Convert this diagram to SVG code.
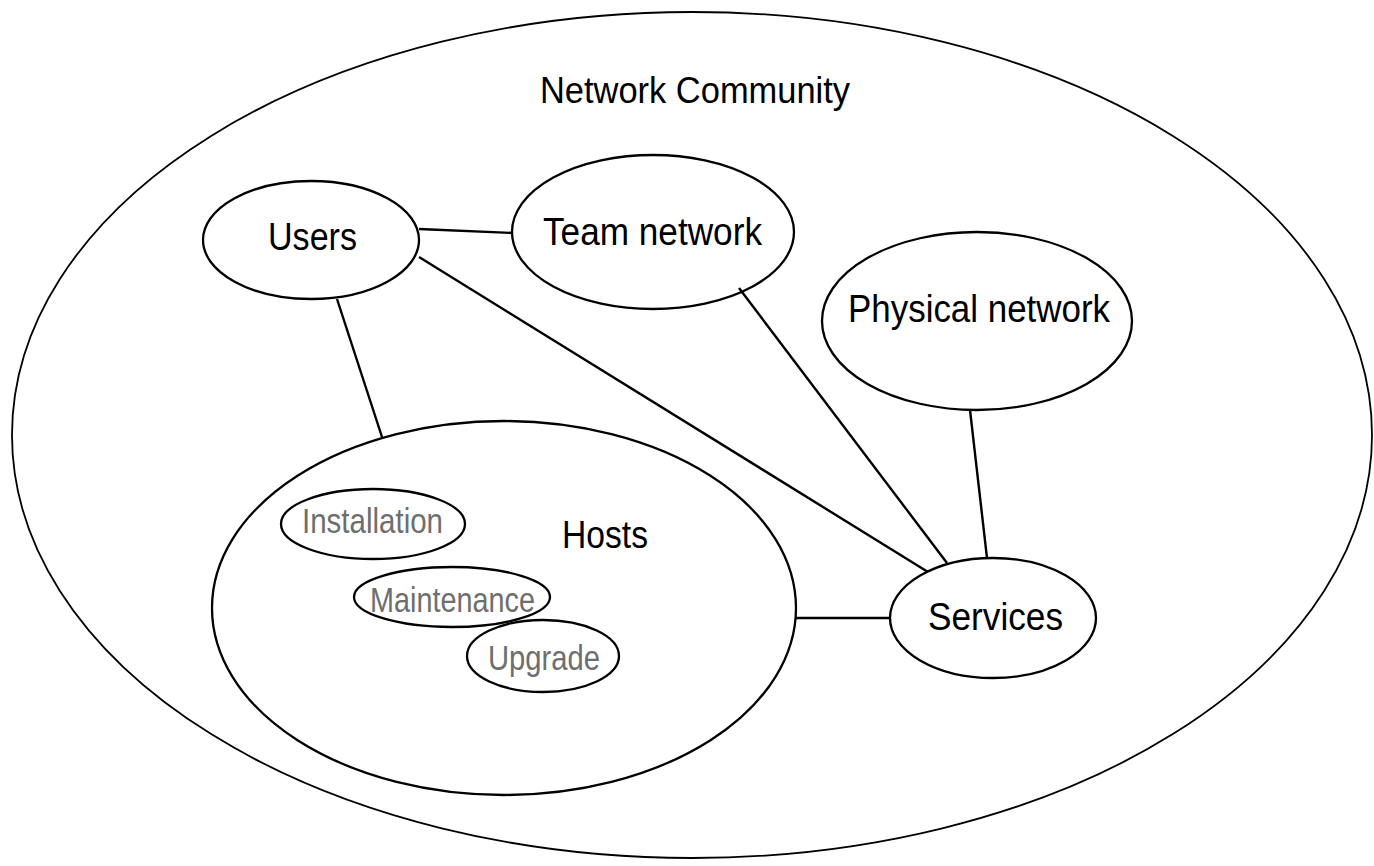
<svg xmlns="http://www.w3.org/2000/svg" width="1374" height="866" viewBox="0 0 1374 866">
<style>
.n{fill:none;stroke:#000;stroke-width:2.3}
.o{fill:none;stroke:#000;stroke-width:1.8}
.c{stroke:#000;stroke-width:2.4;fill:none}
.t{font-family:"Liberation Sans",Arial,sans-serif;font-size:38px;fill:#000}
.s{font-family:"Liberation Sans",Arial,sans-serif;font-size:35px;fill:#6e6e6e}
</style>
<rect width="1374" height="866" fill="#fff"/>
<g id="community">
<ellipse class="o" cx="692" cy="435" rx="680" ry="423"/>
<text class="t" x="540" y="103" textLength="310" lengthAdjust="spacingAndGlyphs" style="font-size:36px">Network Community</text>
</g>
<g id="connectors">
<line class="c" x1="419" y1="229" x2="513" y2="233"/>
<line class="c" x1="419" y1="257" x2="928" y2="572"/>
<line class="c" x1="337" y1="299" x2="382" y2="437"/>
<line class="c" x1="739" y1="288" x2="947" y2="563"/>
<line class="c" x1="970" y1="410" x2="987" y2="558"/>
<line class="c" x1="795" y1="618" x2="890" y2="618"/>
</g>
<g id="users">
<ellipse class="n" cx="311" cy="240" rx="108" ry="59"/>
<text class="t" x="268" y="250" textLength="89" lengthAdjust="spacingAndGlyphs">Users</text>
</g>
<g id="team">
<ellipse class="n" cx="653" cy="232" rx="141" ry="77"/>
<text class="t" x="543" y="245" textLength="219" lengthAdjust="spacingAndGlyphs">Team network</text>
</g>
<g id="physical">
<ellipse class="n" cx="977" cy="321" rx="155" ry="89"/>
<text class="t" x="848" y="322" textLength="262" lengthAdjust="spacingAndGlyphs">Physical network</text>
</g>
<g id="hosts">
<ellipse class="n" cx="504" cy="608" rx="292" ry="187"/>
<text class="t" x="562" y="548" textLength="86" lengthAdjust="spacingAndGlyphs">Hosts</text>
</g>
<g id="installation">
<ellipse class="n" cx="373" cy="524" rx="92" ry="35"/>
<text class="s" x="302" y="533" textLength="141" lengthAdjust="spacingAndGlyphs">Installation</text>
</g>
<g id="maintenance">
<ellipse class="n" cx="452" cy="597" rx="98" ry="30"/>
<text class="s" x="370" y="612" textLength="165" lengthAdjust="spacingAndGlyphs">Maintenance</text>
</g>
<g id="upgrade">
<ellipse class="n" cx="543" cy="656" rx="76" ry="36"/>
<text class="s" x="488" y="670" textLength="112" lengthAdjust="spacingAndGlyphs">Upgrade</text>
</g>
<g id="services">
<ellipse class="n" cx="993" cy="618" rx="103" ry="60"/>
<text class="t" x="928" y="630" textLength="135" lengthAdjust="spacingAndGlyphs">Services</text>
</g>
</svg>
